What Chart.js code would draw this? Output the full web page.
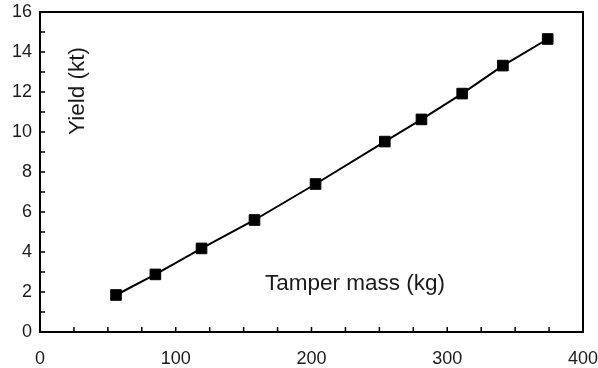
<!DOCTYPE html>
<html>
<head>
<meta charset="utf-8">
<script src="https://cdn.jsdelivr.net/npm/chart.js@4/dist/chart.umd.min.js"></script>
<style>
  html, body { margin: 0; padding: 0; background: #fff; }
  #wrap { width: 598px; height: 368px; }
</style>
</head>
<body>
<div id="wrap"><canvas id="yieldChart" width="598" height="368"></canvas></div>
<script>
// tamper mass (kg) vs yield (kt)
const tamperMass = [56, 85, 119, 158, 203, 254, 281, 311, 341, 374];
const yieldKt = [1.85, 2.88, 4.18, 5.6, 7.4, 9.52, 10.63, 11.92, 13.32, 14.65];

const xTickLabels = [0, 100, 200, 300, 400];
const yTickLabels = [0, 2, 4, 6, 8, 10, 12, 14, 16];

const FONT = 'Liberation Sans, Arial, sans-serif';

// frame, inward tick marks and the two axis titles sitting inside the plot
const framePlugin = {
    id: 'frame',
    afterDraw(chart) {
        const ctx = chart.ctx;
        const a = chart.chartArea;
        const xs = chart.scales.x;
        const ys = chart.scales.y;
        ctx.save();
        ctx.strokeStyle = '#000';
        ctx.lineWidth = 1.5;
        // minor + major ticks, pointing into the plot
        ctx.beginPath();
        for (let v = 25; v < 400; v += 25) {
            const px = xs.getPixelForValue(v);
            ctx.moveTo(px, a.bottom);
            ctx.lineTo(px, a.bottom - 5);
        }
        for (let v = 1; v < 16; v++) {
            const py = ys.getPixelForValue(v);
            ctx.moveTo(a.left, py);
            ctx.lineTo(a.left + 5, py);
        }
        ctx.stroke();
        ctx.lineWidth = 2;
        ctx.strokeRect(a.left, a.top, a.right - a.left, a.bottom - a.top);

        ctx.fillStyle = '#1a1a1a';
        ctx.font = '22.5px ' + FONT;
        ctx.textAlign = 'center';
        ctx.textBaseline = 'middle';
        ctx.fillText('Tamper mass (kg)', a.left + 315, a.top + 272);
        ctx.translate(a.left + 38, a.top + 79);
        ctx.rotate(-Math.PI / 2);
        ctx.fillText('Yield (kt)', 0, 0);
        ctx.restore();
    }
};

new Chart(document.getElementById('yieldChart'), {
    type: 'scatter',
    data: {
        datasets: [{
            data: tamperMass.map((m, i) => ({ x: m, y: yieldKt[i] })),
            showLine: true,
            borderColor: '#000',
            borderWidth: 2,
            backgroundColor: '#000',
            pointStyle: 'rect',
            pointRadius: 7.5,
            pointBorderWidth: 1,
            pointBorderColor: '#000',
            pointBackgroundColor: '#000'
        }]
    },
    options: {
        responsive: false,
        animation: false,
        layout: { padding: { top: 12, right: 15, left: 0, bottom: 0 } },
        plugins: { legend: { display: false }, tooltip: { enabled: false } },
        scales: {
            x: {
                type: 'linear',
                min: 0, max: 400,
                afterBuildTicks: s => { s.ticks = xTickLabels.map(v => ({ value: v })); },
                afterFit: s => { s.height = 36; s.paddingLeft = 0; s.paddingRight = 0; },
                grid: { display: false, drawTicks: false },
                border: { display: false },
                ticks: { color: '#1a1a1a', padding: 16, font: { family: FONT, size: 18 }, maxRotation: 0 }
            },
            y: {
                type: 'linear',
                min: 0, max: 16,
                afterBuildTicks: s => { s.ticks = yTickLabels.map(v => ({ value: v })); },
                afterFit: s => { s.width = 40; s.paddingTop = 0; s.paddingBottom = 0; },
                grid: { display: false, drawTicks: false },
                border: { display: false },
                ticks: { color: '#1a1a1a', padding: 8, font: { family: FONT, size: 18 } }
            }
        }
    },
    plugins: [framePlugin]
});
</script>
</body>
</html>
